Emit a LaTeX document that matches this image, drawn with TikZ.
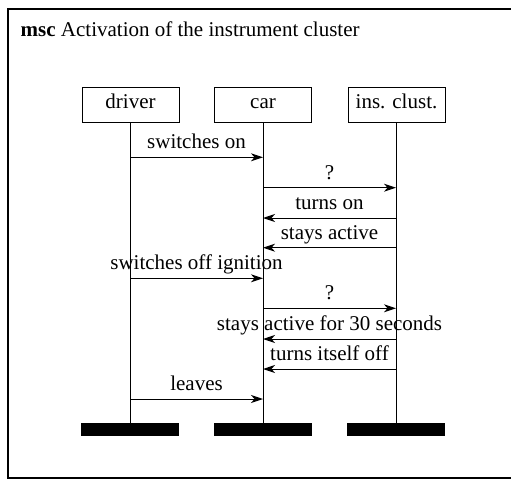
\documentclass[tikz,border=0pt]{standalone}
\usepackage{fontspec}
\setmainfont{Liberation Serif}
\usetikzlibrary{arrows.meta}
\begin{document}
\begin{tikzpicture}[x=1pt,y=-1pt,
  every node/.style={font=\fontsize{21}{25}\selectfont},
  inst/.style={draw,line width=1pt,minimum width=97pt,minimum height=35pt,inner sep=0pt,text height=13.5pt,text depth=6.5pt},
  endbar/.style={fill=black,minimum width=98pt,minimum height=13.3pt,inner sep=0pt},
  life/.style={line width=1pt},
  msg/.style={line width=1pt,-{Stealth[length=12pt,width=8pt,inset=3.5pt]}},
  lbl/.style={midway,anchor=base,yshift=8.5pt,inner sep=0pt}]
\useasboundingbox (0,0) rectangle (511,479);
\draw[line width=1.4pt] (513,9) -- (8,9) -- (8,478) -- (513,478);
\node[anchor=base west,inner sep=0pt] (title) at (20.5,36) {\textbf{msc} Activation of the instrument cluster};
\node[inst] (driver) at (130.5,104.5) {driver};
\node[inst] (car) at (263,104.5) {car};
\node[inst] (ins) at (396.5,104.5) {ins. clust.};
\node[endbar] (bd) at (130,429.4) {};
\node[endbar] (bc) at (263,429.4) {};
\node[endbar] (bi) at (396,429.4) {};
\draw[life] (130,122) -- (bd.north);
\draw[life] (263,122) -- (bc.north);
\draw[life] (396,122) -- (bi.north);
% message end points on the lifelines
\foreach \n/\y in {1/157.3,2/187.7,3/218,4/247.7,5/278.3,6/308.3,7/339,8/369,9/399}{
  \coordinate (d\n) at (130,\y);
  \coordinate (c\n) at (263,\y);
  \coordinate (i\n) at (396,\y);
}
\draw[msg] (d1) -- (c1) node[lbl] {switches on};
\draw[msg] (c2) -- (i2) node[lbl] {?};
\draw[msg] (i3) -- (c3) node[lbl] {turns on};
\draw[msg] (i4) -- (c4) node[lbl] {stays active};
\draw[msg] (d5) -- (c5) node[lbl] {switches off ignition};
\draw[msg] (c6) -- (i6) node[lbl] {?};
\draw[msg] (i7) -- (c7) node[lbl] {stays active for 30 seconds};
\draw[msg] (i8) -- (c8) node[lbl] {turns itself off};
\draw[msg] (d9) -- (c9) node[lbl] {leaves};
\end{tikzpicture}
\end{document}
